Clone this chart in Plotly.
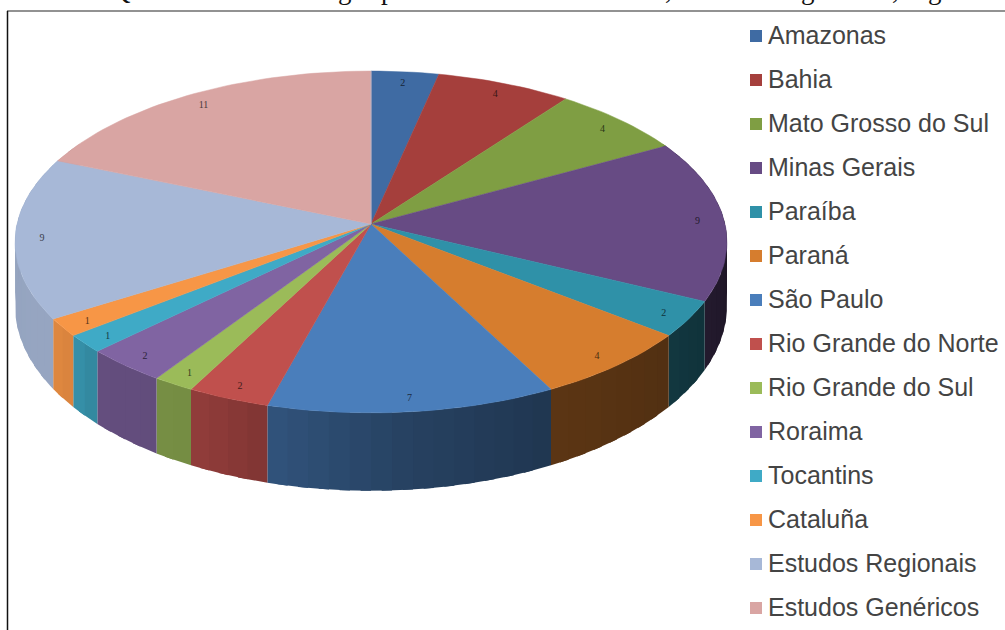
import math
import plotly.graph_objects as go

# Publications per region
categories = ["Amazonas", "Bahia", "Mato Grosso do Sul", "Minas Gerais", "Paraíba", "Paraná",
              "São Paulo", "Rio Grande do Norte", "Rio Grande do Sul", "Roraima", "Tocantins",
              "Cataluña", "Estudos Regionais", "Estudos Genéricos"]
values = [2, 4, 4, 9, 2, 4, 7, 2, 1, 2, 1, 1, 9, 11]
top_colors = ["#3F6BA3", "#A53F3C", "#7F9E43", "#674B84", "#2F91A8", "#D67D2E", "#4A7EBB",
              "#C0504D", "#9BBB59", "#8064A2", "#3FAAC6", "#F79646", "#A7B8D7", "#D9A5A3"]

# Bottoms of the heading line that runs off the top of the page
heading_glyphs = ["Q", "g", "p", ",", "g", ",", "g"]
heading_x = [121, 345, 388, 668, 808, 895, 935]

# Shading of the outer wall by angle, clockwise from twelve o'clock
shade_angles = [60, 90, 128, 153, 175, 195, 205, 225, 235, 300]
shade_levels = [.27, .27, .38, .43, .52, .66, .75, .78, .90, .88]

WIDTH, HEIGHT = 1005, 630
CX, CY = 371, 224
RX, RY = 354, 169
PERSPECTIVE = 0.105
DEPTH = 62.5


def project(deg, r=1.0, z=0.0):
    t = math.radians(deg)
    x, y = r * math.sin(t), -r * math.cos(t)
    s = 1 / (1 - PERSPECTIVE * y)
    return CX + RX * x * s, CY + RY * y * s + z * s * s


def shade(hex_color, f):
    rgb = [int(hex_color[i:i + 2], 16) for i in (1, 3, 5)]
    return "rgb(%d,%d,%d)" % tuple(round(c * f) for c in rgb)


def shade_at(deg):
    for i in range(len(shade_angles) - 1):
        a0, a1 = shade_angles[i], shade_angles[i + 1]
        if a0 <= deg <= a1:
            u = (deg - a0) / (a1 - a0)
            return shade_levels[i] + u * (shade_levels[i + 1] - shade_levels[i])
    return shade_levels[-1]


total = sum(values)
edges = [0.0]
for v in values:
    edges.append(edges[-1] + v / total * 360)

fig = go.Figure()

# Outer wall, painted wedge by wedge; each strip runs under its neighbour to avoid seams
for i, color in enumerate(top_colors):
    lo, hi = max(edges[i], 60), min(edges[i + 1], 300)
    if hi <= lo:
        continue
    n = max(1, round((hi - lo) / 3))
    for j in range(n):
        a0 = lo + (hi - lo) * j / n
        a1 = lo + (hi - lo) * (j + 1) / n
        far = hi if j == n - 1 else min(hi, a1 + 1.5)
        arc = [a0 + (far - a0) * q / 4 for q in range(5)]
        upper = [project(a) for a in arc]
        lower = [project(a, z=DEPTH) for a in reversed(arc)]
        pts = upper + lower + [upper[0]]
        fig.add_trace(go.Scatter(x=[p[0] for p in pts], y=[p[1] for p in pts], mode="lines",
                                 fill="toself", fillcolor=shade(color, shade_at((a0 + a1) / 2)),
                                 line=dict(width=0), hoverinfo="skip"))

# Top face
for i, color in enumerate(top_colors):
    n = max(2, round((edges[i + 1] - edges[i]) / 1.5))
    arc = [project(edges[i] + (edges[i + 1] - edges[i]) * j / n) for j in range(n + 1)]
    xs = [CX] + [p[0] for p in arc] + [CX]
    ys = [CY] + [p[1] for p in arc] + [CY]
    fig.add_trace(go.Scatter(x=xs, y=ys, mode="lines", fill="toself", fillcolor=color,
                             line=dict(color=color, width=0.5), name=categories[i],
                             hoverinfo="name"))

# Pale seam where the first and last wedges meet
seam = project(0)
fig.add_trace(go.Scatter(x=[CX, seam[0]], y=[CY, seam[1]], mode="lines",
                         line=dict(color="#B7B3C6", width=1), hoverinfo="skip"))

# Value labels near the rim
mids = [(edges[i] + edges[i + 1]) / 2 for i in range(len(values))]
label_pts = [project(m, r=0.925, z=2) for m in mids]
fig.add_trace(go.Scatter(x=[p[0] for p in label_pts], y=[p[1] for p in label_pts], mode="text",
                         text=[str(v) for v in values],
                         textfont=dict(family="Liberation Serif", size=10,
                                       color=[shade(c, .35) for c in top_colors]),
                         hoverinfo="skip"))

# Key on the right
key_y = [36 + 44 * i for i in range(len(categories))]
fig.add_trace(go.Scatter(x=[756] * len(categories), y=key_y, mode="markers",
                         marker=dict(symbol="square", size=12, color=top_colors), hoverinfo="skip"))
fig.add_trace(go.Scatter(x=[768] * len(categories), y=[y + 2 for y in key_y], mode="text",
                         text=categories, textposition="middle right",
                         textfont=dict(family="Liberation Sans", size=25, color="#444444"),
                         hoverinfo="skip", cliponaxis=False))

annotations = [dict(text=g, x=x / WIDTH, y=1, xref="paper", yref="paper", xanchor="center",
                    yanchor="bottom", yshift=-7, showarrow=False,
                    font=dict(family="Liberation Serif", size=27, color="#111111"))
               for g, x in zip(heading_glyphs, heading_x)]

fig.update_layout(
    width=WIDTH, height=HEIGHT, autosize=False, showlegend=False,
    margin=dict(l=0, r=0, t=0, b=0), paper_bgcolor="white", plot_bgcolor="white",
    xaxis=dict(range=[0, WIDTH], visible=False, fixedrange=True),
    yaxis=dict(range=[HEIGHT, 0], visible=False, fixedrange=True),
    annotations=annotations,
    shapes=[
        dict(type="line", xref="x", yref="y", x0=7, x1=WIDTH, y0=11, y1=11,
             line=dict(color="#6e6e6e", width=1.5)),
        dict(type="line", xref="x", yref="y", x0=7.5, x1=7.5, y0=11, y1=HEIGHT,
             line=dict(color="#111111", width=1.5)),
    ],
)

fig.write_html("out.html", config=dict(displayModeBar=False))
